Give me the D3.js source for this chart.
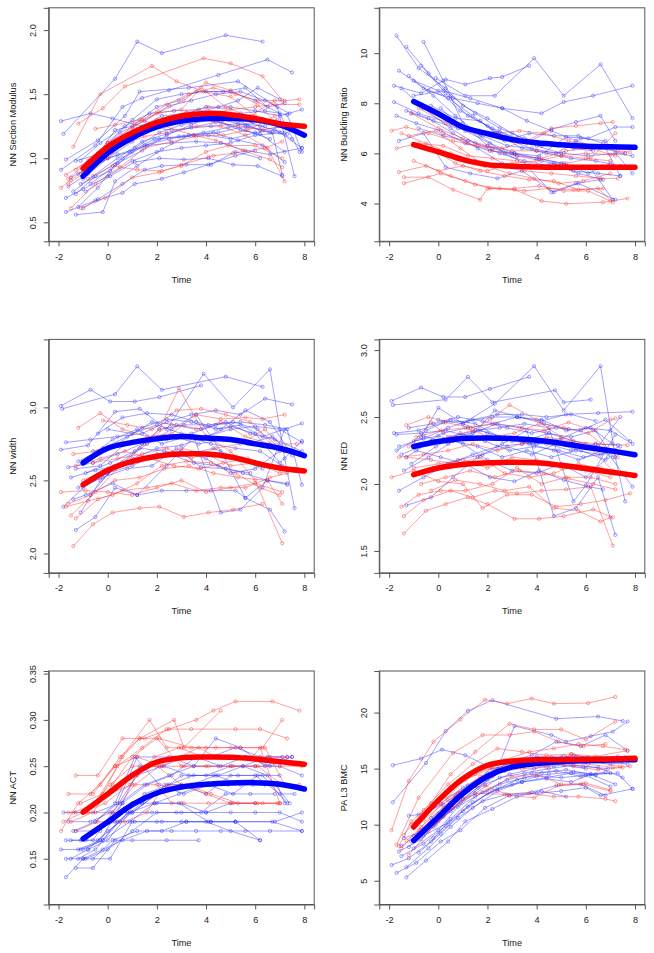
<!DOCTYPE html>
<html><head><meta charset="utf-8">
<script src="https://cdn.jsdelivr.net/npm/d3@7"></script>
<style>body{margin:0;background:#fff} svg{display:block} text{font-family:"Liberation Sans",Arial,Helvetica,sans-serif;fill:#222}</style>
</head><body><svg id="c" width="654" height="953"></svg>
<script>
// ---------- shared ----------
const timeTicks = [-2, 0, 2, 4, 6, 8];
const timeTickLabels = ["-2", "0", "2", "4", "6", "8"];
const timeDomain = [-2.4, 8.4];
const meanTimes = [-1, 0, 1, 2, 3, 4, 5, 6, 7, 8];
const xTitle = "Time";

// ---------- panel 1: NN Section Modulus ----------
const title1 = "NN Section Modulus";
const yTicks1 = [0.5, 1.0, 1.5, 2.0];
const yTickLabels1 = ["0.5", "1.0", "1.5", "2.0"];
const yDomain1 = [0.352, 2.174];
const blueMean1 = [0.86, 1.04, 1.16, 1.245, 1.29, 1.31, 1.31, 1.30, 1.26, 1.18];
const redMean1 = [0.92, 1.09, 1.20, 1.28, 1.33, 1.35, 1.34, 1.31, 1.27, 1.25];
const blue1 = [
 [[-1.8,1.19],[0.3,1.62],[1.2,1.91],[2.2,1.82],[4.8,1.96],[6.3,1.91]],
 [[-1.9,1.29],[-0.7,1.35],[0.2,1.31],[1.4,1.25],[2.6,1.22],[4.2,1.25],[5.3,1.27],[6.4,1.25]],
 [[-1.9,0.91],[-0.5,1.10],[0.6,1.40],[1.4,1.47],[2.5,1.53],[4.5,1.65],[6.5,1.77],[7.5,1.67]],
 [[-1.7,0.99],[-0.4,1.14],[0.7,1.33],[1.3,1.52],[3.3,1.55],[5.3,1.60],[6.9,1.40],[7.6,0.86]],
 [[-1.7,0.58],[-0.5,0.67],[0.6,0.73],[1.1,0.80],[2.2,0.84],[3.1,0.89],[4.1,0.95],[5.2,1.02],[6.0,1.06]],
 [[-1.3,0.56],[-0.2,0.58],[0.3,0.82],[1.2,0.94],[2.2,1.07],[3.3,1.18],[4.3,1.20],[5.3,1.14],[6.3,1.10],[7.2,0.97]],
 [[-1.2,0.62],[-0.4,0.77],[0.3,0.95],[1.1,1.08],[2.1,1.20],[3.0,1.26],[4.3,1.30],[5.4,1.22],[6.2,1.19],[7.2,1.05]],
 [[-1.7,0.69],[-1.0,0.76],[0.0,0.86],[1.0,0.98],[2.0,1.05],[3.0,1.08],[4.0,1.10],[5.0,1.12],[6.0,1.18],[7.0,1.20],[7.9,1.08]],
 [[-1.4,0.74],[-0.6,0.86],[0.4,1.00],[1.4,1.13],[2.4,1.19],[3.4,1.24],[4.4,1.28],[5.4,1.35],[6.4,1.37],[7.3,1.34],[7.9,1.05]],
 [[-1.0,0.84],[0.0,1.00],[1.0,1.13],[2.0,1.27],[3.0,1.33],[4.0,1.40],[5.0,1.40],[6.0,1.37],[7.0,1.33],[7.9,1.38]],
 [[-1.5,0.85],[-0.5,0.95],[0.5,1.13],[1.5,1.22],[2.5,1.30],[3.5,1.35],[4.5,1.40],[5.3,1.45],[6.1,1.55],[7.0,1.46]],
 [[-1.1,0.80],[0.1,0.90],[1.0,1.05],[2.1,1.15],[3.1,1.17],[4.1,1.18],[5.0,1.15],[6.0,1.20],[6.8,1.22],[7.5,1.15]],
 [[-0.6,0.97],[0.3,1.22],[1.0,1.25],[2.0,1.40],[2.9,1.45],[3.6,1.52],[4.7,1.52],[5.6,1.55],[6.5,1.40],[7.2,1.43]],
 [[-1.3,0.72],[-0.5,0.86],[0.6,1.00],[1.5,1.10],[2.5,1.15],[3.5,1.18],[4.5,1.20],[5.6,1.25],[6.6,1.20],[7.3,1.19]],
 [[-0.8,0.92],[0.4,1.03],[1.6,1.10],[2.6,1.12],[3.6,1.13],[4.6,1.12],[5.6,1.06],[6.6,1.03],[7.9,1.08]],
 [[-1.1,0.98],[-0.3,1.12],[0.7,1.25],[1.7,1.35],[2.7,1.37],[3.7,1.38],[4.7,1.30],[5.7,1.25],[6.7,1.20],[7.1,0.87]],
 [[-0.9,0.74],[0.1,0.86],[1.1,0.97],[2.1,1.00],[3.1,0.99],[4.1,1.00],[5.1,0.95],[6.1,0.94],[7.1,0.86]],
 [[-1.3,0.98],[-0.4,1.03],[0.5,1.20],[1.5,1.29],[2.5,1.41],[3.4,1.45],[4.4,1.50],[5.4,1.52],[6.4,1.45],[7.4,1.35]],
 [[-0.7,0.80],[0.4,0.96],[1.4,1.06],[2.4,1.18],[3.4,1.26],[4.4,1.35],[5.3,1.32],[6.2,1.25],[7.2,1.20]],
 [[-1.0,0.61],[-0.4,0.68],[0.6,0.80],[1.5,0.91],[2.2,0.94],[3.2,0.95],[4.2,0.95],[5.2,1.05],[6.2,1.00]],
 [[-1.6,0.78],[-0.8,0.88],[0.2,1.05],[1.2,1.23],[2.2,1.33],[3.2,1.35],[4.2,1.33],[5.2,1.30],[6.2,1.22],[7.2,1.25]],
 [[0.0,1.12],[1.0,1.30],[2.0,1.46],[3.0,1.50],[4.0,1.52],[5.0,1.52],[6.0,1.45],[7.0,1.35],[7.8,1.05]],
 [[-1.2,0.88],[-0.2,0.99],[0.9,1.05],[1.9,1.15],[2.9,1.17],[3.9,1.20],[4.9,1.24],[5.9,1.28],[6.9,1.30]],
 [[-0.3,0.98],[0.6,1.17],[1.6,1.22],[2.6,1.27],[3.6,1.30],[4.6,1.28],[5.6,1.22],[6.6,1.15]]
];
const red1 = [
 [[-1.4,1.09],[-0.3,1.50],[1.8,1.72],[2.8,1.60],[3.9,1.52],[5.0,1.48],[6.0,1.33]],
 [[-1.2,1.27],[-0.2,1.39],[0.7,1.56],[3.9,1.78],[5.0,1.74],[6.3,1.64],[7.1,1.45]],
 [[-1.9,0.77],[-1.5,0.83],[-0.6,0.95],[0.4,1.12],[1.4,1.30],[2.4,1.42],[3.3,1.50],[4.3,1.55],[5.2,1.50],[6.1,1.45],[7.2,1.45],[7.8,1.46]],
 [[-1.6,0.80],[-1.0,0.88],[0.0,1.00],[1.0,1.18],[2.0,1.30],[3.2,1.36],[4.1,1.40],[5.0,1.38],[6.0,1.40],[6.8,1.42],[7.8,1.42]],
 [[-1.5,0.61],[-0.5,0.80],[0.5,0.93],[1.5,1.08],[2.6,1.13],[3.6,1.17],[4.7,1.18],[5.7,1.22],[6.8,1.33]],
 [[-1.1,0.61],[-0.1,0.69],[1.0,0.85],[2.1,0.89],[3.0,0.95],[4.1,1.01],[4.3,1.02],[5.1,1.04],[6.4,1.08],[7.1,1.13]],
 [[-1.3,0.91],[-0.4,1.04],[0.5,1.10],[1.5,1.17],[2.4,1.20],[3.6,1.25],[4.6,1.25],[5.6,1.18],[6.5,1.08],[7.2,0.82]],
 [[-1.7,0.87],[-0.8,0.98],[0.1,1.08],[1.1,1.27],[2.1,1.36],[3.1,1.45],[4.0,1.59],[5.0,1.53],[6.1,1.42],[7.0,1.25]],
 [[-1.0,0.93],[0.0,1.12],[1.0,1.24],[2.0,1.35],[3.0,1.38],[3.8,1.55],[4.8,1.40],[5.8,1.32],[6.8,1.28],[7.6,1.25]],
 [[-0.5,1.23],[0.3,1.26],[1.3,1.30],[2.3,1.25],[3.5,1.18],[4.4,1.14],[5.5,1.06],[6.6,0.99],[7.1,0.93]],
 [[-0.8,0.84],[0.2,0.94],[1.2,0.91],[2.2,0.90],[3.0,0.94],[4.0,1.05],[4.9,1.10],[6.0,1.10],[7.1,1.00]],
 [[-1.6,0.84],[-0.7,0.99],[0.3,1.11],[1.3,1.22],[2.3,1.28],[3.3,1.31],[4.3,1.29],[5.3,1.25],[6.3,1.22],[7.4,1.26]],
 [[-0.2,1.05],[0.8,1.15],[1.8,1.24],[2.8,1.30],[3.8,1.32],[4.8,1.36],[5.8,1.33],[6.8,1.45]]
];

// ---------- panel 2: NN Buckling Ratio ----------
const title2 = "NN Buckling Ratio";
const yTicks2 = [4, 6, 8, 10];
const yTickLabels2 = ["4", "6", "8", "10"];
const yDomain2 = [2.49, 11.81];
const blueMean2 = [8.07, 7.58, 7.05, 6.79, 6.55, 6.42, 6.34, 6.28, 6.26, 6.24];
const redMean2 = [6.35, 6.06, 5.75, 5.55, 5.49, 5.46, 5.45, 5.45, 5.45, 5.45];
const blue2 = [
 [[-1.7,10.7],[-0.8,9.4],[0.3,8.6],[1.0,7.9],[2.0,7.4],[3.0,6.8],[4.0,6.3],[5.0,6.0]],
 [[-1.3,10.25],[-0.4,9.2],[0.5,8.3],[1.5,7.6],[2.5,7.0],[3.5,6.6],[4.5,6.4],[5.5,6.2],[6.3,6.1]],
 [[-0.6,10.45],[0.2,8.9],[1.0,7.2],[2.0,6.3],[3.0,6.0],[4.0,5.8],[5.0,5.6],[6.0,5.4]],
 [[-1.8,8.7],[-0.7,8.4],[0.3,8.95],[1.1,8.75],[2.1,9.0],[2.6,9.05],[3.7,9.5]],
 [[-0.1,9.0],[1.1,8.3],[2.3,8.3],[3.9,9.8],[5.1,8.3],[6.6,9.55],[7.9,7.4]],
 [[-1.0,8.3],[0.2,8.5],[1.3,8.2],[2.6,7.8],[4.2,7.6],[5.1,8.05],[6.3,8.3],[7.9,8.7]],
 [[-1.8,8.05],[-0.8,7.6],[0.5,7.2],[1.5,6.9],[2.5,6.85],[3.6,6.4],[4.6,6.95],[5.6,7.25],[6.6,7.5],[7.2,6.5]],
 [[-1.7,7.5],[-0.9,7.2],[0.1,6.9],[1.1,6.4],[2.1,6.1],[3.1,6.0],[4.1,5.9],[5.2,6.65],[6.1,6.6],[7.2,7.05],[7.9,7.05]],
 [[-1.5,8.6],[-0.6,7.8],[0.5,7.0],[1.5,6.4],[2.5,6.0],[3.5,5.7],[4.5,5.5],[5.5,5.3],[6.5,5.2],[7.4,5.1]],
 [[-1.2,9.1],[-0.2,8.3],[0.7,7.5],[1.7,6.7],[2.7,6.0],[3.7,5.5],[4.7,5.6],[5.7,5.2],[6.7,4.95]],
 [[-1.0,8.9],[0.0,8.5],[0.9,7.7],[2.0,7.1],[3.0,6.5],[4.0,6.1],[5.1,6.0],[6.1,5.9],[7.2,6.0],[7.9,5.9]],
 [[-1.1,7.6],[-0.2,7.3],[0.8,7.0],[1.8,6.7],[2.8,6.3],[3.8,6.2],[4.8,6.0],[5.8,6.6],[6.8,6.5],[7.9,5.2]],
 [[-0.8,7.0],[0.2,6.7],[1.2,6.5],[2.2,6.2],[3.2,5.9],[4.2,5.7],[5.2,5.5],[6.2,5.4],[7.1,4.15]],
 [[-1.3,7.7],[-0.4,7.4],[0.6,6.8],[1.6,6.2],[2.6,5.6],[3.6,5.5],[4.6,4.45],[5.6,4.8],[6.6,4.95]],
 [[-0.4,8.5],[0.6,8.2],[1.6,8.0],[2.6,7.8],[3.6,7.3],[4.6,6.9],[5.6,6.5],[6.6,6.2],[7.6,6.0]],
 [[-1.6,9.3],[-0.6,8.6],[0.4,8.2],[1.4,7.5],[2.4,6.8],[3.4,6.2],[4.4,6.0],[5.4,5.8],[6.4,5.7],[7.4,5.5]],
 [[-0.7,9.5],[0.3,8.4],[1.2,7.5],[2.2,7.0],[3.2,6.6],[4.2,6.3],[5.2,6.3],[6.2,6.2]],
 [[0.1,7.8],[1.1,6.9],[2.1,6.4],[3.1,6.0],[4.1,5.8],[5.1,5.6],[6.1,5.2],[7.0,5.6]],
 [[-1.6,6.5],[-0.6,6.8],[0.3,5.45],[1.3,5.2],[2.4,5.0],[3.4,5.3],[4.7,4.45],[5.7,4.8],[7.2,4.15]],
 [[-0.3,7.9],[0.7,7.4],[1.7,7.3],[2.7,6.5],[3.7,6.8],[4.7,6.7],[5.7,6.7],[6.7,6.4],[7.4,5.1]]
];
const red2 = [
 [[-1.9,6.9],[-1.3,7.05],[-0.4,6.8],[0.6,6.5],[1.6,6.3],[2.6,6.2],[3.6,6.5],[4.6,7.0],[5.6,7.1],[6.6,7.2],[7.1,7.25]],
 [[-1.7,6.2],[-0.8,6.4],[0.2,6.3],[1.2,5.9],[2.2,5.8],[3.2,5.7],[4.2,5.5],[5.2,5.6],[6.2,5.8],[7.2,6.8]],
 [[-1.6,5.25],[-0.5,5.5],[0.5,5.1],[1.5,4.75],[2.5,4.6],[3.5,4.5],[4.5,4.6],[5.5,4.55],[6.5,4.6],[7.1,4.05]],
 [[-1.4,5.05],[-0.4,5.05],[0.6,4.55],[1.7,4.15],[2.0,4.6],[3.1,4.55],[4.2,4.1],[5.2,3.99],[6.7,4.05],[7.7,4.2]],
 [[-1.4,4.8],[0.1,5.2],[1.1,4.9],[2.1,4.6],[3.1,4.6],[4.1,4.7],[5.1,4.5],[6.1,4.5],[7.0,4.1]],
 [[-1.5,6.8],[-0.5,6.4],[0.5,6.0],[1.5,5.7],[2.5,5.5],[3.5,5.3],[4.6,5.2],[5.6,5.1],[6.6,5.0],[7.3,5.0]],
 [[-1.1,7.6],[0.0,7.0],[1.0,6.6],[2.0,6.3],[3.0,6.1],[4.0,6.1],[5.0,5.9],[6.0,5.8],[7.0,5.7]],
 [[-0.8,7.8],[0.3,7.2],[1.3,6.9],[2.3,6.8],[3.3,6.9],[4.3,6.8],[5.3,6.5],[6.3,6.3],[7.3,6.1],[7.8,6.05]],
 [[-1.2,6.7],[-0.1,6.9],[0.9,6.2],[1.9,5.5],[2.9,5.2],[3.9,5.0],[4.9,4.8],[5.9,4.9],[7.0,5.2]],
 [[-0.3,6.2],[0.7,5.6],[1.7,5.3],[2.7,5.1],[3.7,4.95],[4.7,4.9],[5.7,4.55],[6.7,4.6]],
 [[-1.0,5.7],[0.0,5.3],[1.0,5.5],[2.0,5.3],[3.0,5.6],[4.0,5.7],[5.0,5.9],[6.0,6.0],[7.0,5.95],[7.6,6.0]],
 [[0.2,6.8],[1.2,6.4],[2.2,6.1],[3.2,5.9],[4.2,5.8],[5.2,6.1],[6.2,6.2],[7.2,5.9]]
];

// ---------- panel 3: NN width ----------
const title3 = "NN width";
const yTicks3 = [2.0, 2.5, 3.0];
const yTickLabels3 = ["2.0", "2.5", "3.0"];
const yDomain3 = [1.867, 3.465];
const blueMean3 = [2.62, 2.72, 2.76, 2.786, 2.80, 2.79, 2.78, 2.75, 2.72, 2.67];
const redMean3 = [2.47, 2.57, 2.63, 2.665, 2.68, 2.68, 2.66, 2.62, 2.585, 2.565];
const blue3 = [
 [[-1.9,3.01],[-0.7,3.12],[0.1,3.04],[1.1,3.04],[2.1,3.07],[3.8,3.15]],
 [[-1.85,2.99],[0.3,3.09],[1.2,3.28],[2.2,3.12],[4.8,3.21],[6.3,3.14]],
 [[-1.9,2.71],[-0.8,2.74],[0.3,2.97],[1.3,2.99],[2.4,2.85],[3.9,3.23],[5.1,3.00],[6.6,3.26],[7.2,2.65],[7.6,2.31]],
 [[-1.7,2.76],[-0.7,2.78],[0.4,2.80],[1.4,2.82],[2.4,2.90],[3.4,2.95],[4.4,2.98],[5.4,2.95],[6.4,3.06],[7.5,3.02]],
 [[-1.4,2.37],[-0.9,2.40],[0.2,2.48],[1.2,2.40],[2.2,2.43],[3.2,2.43],[4.2,2.43],[5.2,2.43],[5.6,2.38],[6.5,2.50],[7.3,2.47]],
 [[-1.3,2.16],[-0.5,2.25],[0.3,2.45],[1.2,2.40],[2.4,2.60],[3.5,2.80],[4.6,2.28],[5.4,2.30],[6.3,2.45],[7.2,2.85]],
 [[-1.1,2.28],[-0.3,2.50],[0.6,2.62],[1.6,2.75],[2.6,2.85],[3.6,2.95],[4.6,2.70],[5.6,2.38],[6.6,2.30],[7.2,2.15]],
 [[-1.8,2.32],[-1.0,2.45],[0.0,2.55],[1.0,2.65],[2.0,2.72],[3.0,2.74],[4.0,2.80],[5.0,2.85],[6.0,2.87],[7.0,2.85],[7.9,2.76]],
 [[-1.6,2.59],[-0.6,2.62],[0.4,2.68],[1.4,2.75],[2.4,2.78],[3.4,2.82],[4.4,2.88],[5.4,2.90],[6.4,2.88],[7.3,2.85],[7.9,2.47]],
 [[-1.2,2.63],[-0.2,2.72],[0.8,2.80],[1.8,2.90],[2.8,2.88],[3.8,2.85],[4.8,2.90],[5.8,2.82],[6.8,2.78],[7.9,2.70]],
 [[-1.3,2.58],[-0.3,2.60],[0.7,2.75],[1.7,2.78],[2.7,2.80],[3.7,2.75],[4.7,2.78],[5.7,2.75],[6.7,2.80],[7.5,2.67]],
 [[-0.9,2.55],[0.1,2.62],[1.1,2.70],[2.1,2.85],[3.1,2.88],[4.1,2.88],[5.1,2.90],[6.1,2.85],[7.0,2.72]],
 [[-0.6,2.70],[0.4,2.75],[1.4,2.86],[2.4,2.92],[3.4,2.90],[4.4,2.85],[5.4,2.88],[6.3,2.80],[7.9,2.89]],
 [[-1.0,2.48],[0.0,2.55],[1.0,2.60],[2.0,2.68],[3.0,2.70],[4.0,2.65],[5.0,2.55],[6.0,2.58],[7.0,2.70]],
 [[-0.4,2.82],[0.6,2.93],[1.6,2.96],[2.6,2.95],[3.6,2.90],[4.6,2.85],[5.6,2.98],[6.6,2.90],[7.4,2.70]],
 [[-1.5,2.52],[-0.5,2.57],[0.5,2.60],[1.5,2.65],[2.5,2.68],[3.5,2.62],[4.5,2.60],[5.5,2.55],[6.5,2.50],[7.3,2.48]],
 [[-0.8,2.65],[0.2,2.78],[1.2,2.85],[2.2,2.75],[3.2,2.80],[4.2,2.75],[5.2,2.72],[6.2,2.70],[7.1,2.60]],
 [[0.0,2.85],[1.0,2.82],[2.0,2.88],[3.0,2.82],[4.0,2.80],[5.0,2.87],[6.0,2.82],[7.0,2.62],[7.9,2.77]],
 [[-1.2,2.45],[-0.2,2.52],[0.8,2.58],[1.8,2.60],[2.8,2.72],[3.8,2.59],[4.8,2.58],[5.8,2.55]],
 [[-0.7,2.40],[0.3,2.60],[1.3,2.72],[2.3,2.70],[3.3,2.68],[4.3,2.72],[5.3,2.65],[6.3,2.58]]
];
const red3 = [
 [[-1.4,2.05],[-0.6,2.20],[0.2,2.28],[1.3,2.31],[2.1,2.32],[3.1,2.25],[4.1,2.28],[5.1,2.30],[6.3,2.34]],
 [[-1.9,2.42],[-0.9,2.43],[0.0,2.42],[1.0,2.40],[2.0,2.45],[3.0,2.50],[4.0,2.42],[5.0,2.45],[6.0,2.48],[7.1,2.42]],
 [[-1.3,2.24],[-0.4,2.37],[0.6,2.43],[1.6,2.45],[2.6,2.48],[3.6,2.43],[4.6,2.45],[5.6,2.45],[6.6,2.52],[7.3,2.55]],
 [[-1.6,2.34],[-0.7,2.40],[0.3,2.50],[1.3,2.52],[2.3,2.58],[3.3,2.60],[4.3,2.55],[5.3,2.52],[6.5,2.50],[7.1,2.34]],
 [[-1.5,2.26],[-0.5,2.42],[0.5,2.60],[1.5,2.75],[2.1,2.85],[2.9,3.13],[4.0,2.80],[5.0,2.70],[6.0,2.50],[7.1,2.07]],
 [[-1.2,2.86],[-0.3,2.96],[0.6,2.85],[1.6,2.80],[2.6,2.82],[3.6,2.95],[4.6,2.92],[5.6,2.93],[6.3,2.92],[7.2,2.95]],
 [[-1.4,2.68],[-0.4,2.70],[0.6,2.75],[1.6,2.78],[2.6,2.88],[3.6,2.85],[4.6,2.90],[5.6,2.80],[6.6,2.75],[7.7,2.75]],
 [[-1.0,2.50],[0.0,2.58],[1.0,2.62],[2.0,2.65],[3.0,2.72],[4.0,2.68],[5.0,2.60],[6.0,2.62],[7.0,2.55],[7.6,2.57]],
 [[-0.2,2.91],[0.8,2.88],[1.8,2.85],[2.8,2.98],[3.8,2.99],[4.8,2.95],[5.8,2.90],[6.8,2.72]],
 [[-1.7,2.32],[-0.8,2.36],[0.2,2.40],[1.2,2.48],[2.2,2.60],[3.2,2.63],[4.2,2.62],[5.2,2.55],[6.2,2.45],[7.0,2.40]],
 [[-0.6,2.62],[0.4,2.65],[1.4,2.68],[2.4,2.72],[3.4,2.65],[4.4,2.72],[5.4,2.75],[6.4,2.85],[7.2,2.70]],
 [[-1.3,2.60],[-0.3,2.65],[0.7,2.70],[1.7,2.65],[2.7,2.60],[3.7,2.58],[4.7,2.62],[5.7,2.65],[6.7,2.60]]
];

// ---------- panel 4: NN ED ----------
const title4 = "NN ED";
const yTicks4 = [1.5, 2.0, 2.5, 3.0];
const yTickLabels4 = ["1.5", "2.0", "2.5", "3.0"];
const yDomain4 = [1.336, 3.08];
const blueMean4 = [2.28, 2.317, 2.34, 2.344, 2.34, 2.327, 2.305, 2.275, 2.248, 2.218];
const redMean4 = [2.07, 2.12, 2.146, 2.158, 2.163, 2.158, 2.14, 2.116, 2.09, 2.064];
const blue4 = [
 [[-1.9,2.62],[-0.7,2.72],[0.2,2.65],[1.1,2.65],[2.1,2.71],[3.7,2.80]],
 [[-1.85,2.59],[0.3,2.63],[1.2,2.80],[2.2,2.61],[4.75,2.70],[5.1,2.61],[6.2,2.63]],
 [[-1.7,2.25],[-0.7,2.35],[0.0,2.57],[1.0,2.45],[2.3,2.60],[3.9,2.88],[5.1,2.55],[6.6,2.88],[7.2,2.20],[7.6,1.87]],
 [[-1.8,2.38],[-0.8,2.40],[0.2,2.46],[1.2,2.47],[2.2,2.50],[3.2,2.50],[4.2,2.47],[5.2,2.52],[6.5,2.53],[7.9,2.54]],
 [[-1.3,1.84],[-0.3,1.90],[0.6,2.05],[1.6,2.20],[2.6,2.30],[3.6,2.40],[4.7,1.76],[5.6,1.82],[6.5,2.05],[7.2,1.62]],
 [[-1.5,2.22],[-0.5,2.30],[0.5,2.35],[1.5,2.40],[2.5,2.42],[3.5,2.45],[4.5,2.42],[5.5,1.87],[6.0,1.99],[7.2,2.37]],
 [[-1.1,2.15],[-0.1,2.28],[0.9,2.38],[1.9,2.32],[2.9,2.25],[3.9,2.28],[4.9,2.25],[5.9,2.20],[6.9,2.23],[7.9,1.98]],
 [[-1.6,1.95],[-0.6,2.05],[0.4,2.15],[1.4,2.22],[2.4,2.28],[3.4,2.30],[4.4,2.30],[5.4,2.25],[6.4,2.30],[7.3,2.29]],
 [[-1.2,2.42],[-0.2,2.45],[0.8,2.50],[1.8,2.47],[2.8,2.42],[3.8,2.38],[4.8,2.42],[5.8,2.40],[6.8,2.48],[7.8,2.32]],
 [[-0.8,2.28],[0.2,2.38],[1.2,2.42],[2.2,2.45],[3.2,2.50],[4.2,2.48],[5.2,2.40],[6.2,2.42],[7.1,2.30]],
 [[-1.4,2.10],[-0.4,2.20],[0.6,2.32],[1.6,2.28],[2.6,2.20],[3.6,2.25],[4.6,2.20],[5.6,2.25],[6.6,2.22],[7.4,2.28]],
 [[-0.5,2.40],[0.5,2.48],[1.5,2.45],[2.5,2.35],[3.5,2.32],[4.5,2.38],[5.5,2.32],[6.5,2.28],[7.4,2.50]],
 [[-1.0,2.32],[0.0,2.36],[1.0,2.30],[2.0,2.18],[3.0,2.10],[4.0,2.08],[5.0,2.15],[6.0,2.05],[6.9,2.20]],
 [[-1.6,2.28],[-0.6,2.34],[0.4,2.42],[1.4,2.48],[2.4,2.52],[3.4,2.52],[4.4,2.50],[5.4,2.52],[6.4,2.47]],
 [[0.0,2.48],[1.0,2.45],[2.0,2.38],[3.0,2.32],[4.0,2.30],[5.0,2.34],[6.0,2.42],[7.0,2.40],[7.9,2.30]],
 [[-0.9,2.25],[0.1,2.20],[1.1,2.15],[2.1,2.05],[3.1,2.02],[4.1,2.10],[5.1,2.03],[6.1,1.98],[6.7,1.96]],
 [[-1.3,2.20],[-0.3,2.32],[0.7,2.35],[1.7,2.40],[2.7,2.35],[3.7,2.30],[4.7,2.25],[5.7,2.18],[6.7,2.25]],
 [[-0.6,2.36],[0.4,2.30],[1.4,2.38],[2.4,2.45],[3.4,2.42],[4.4,2.38],[5.4,2.35],[6.4,2.40],[7.1,2.20]],
 [[-1.7,2.37],[-0.7,2.38],[0.3,2.40],[1.3,2.35],[2.3,2.55],[3.3,2.50],[4.3,2.45],[5.3,2.41]],
 [[-0.2,2.12],[0.8,2.18],[1.8,2.22],[2.8,2.28],[3.8,2.22],[4.8,2.30],[5.8,2.25],[6.8,2.18]]
];
const red4 = [
 [[-1.4,1.63],[-0.5,1.80],[0.3,1.85],[1.2,1.90],[2.0,1.85],[3.1,1.74],[4.1,1.74],[5.1,1.76],[6.3,1.81],[7.1,1.75]],
 [[-1.4,1.76],[-0.6,1.88],[0.5,1.95],[1.4,1.90],[2.3,1.95],[3.2,1.93],[4.2,1.95],[5.2,1.96],[6.2,1.98],[7.1,1.54]],
 [[-1.9,2.05],[-1.0,2.10],[0.0,2.02],[1.0,2.00],[1.8,1.82],[2.8,1.92],[3.8,1.92],[4.8,1.83],[5.8,1.85],[6.8,1.88],[7.8,1.93]],
 [[-1.5,1.83],[-0.8,1.92],[0.1,1.95],[1.1,1.95],[2.2,2.00],[3.2,2.12],[4.2,2.00],[5.2,2.05],[6.2,2.05],[7.2,2.00]],
 [[-1.2,2.28],[-0.3,2.46],[0.4,2.35],[1.4,2.40],[2.1,2.48],[2.9,2.59],[4.0,2.48],[5.0,2.35],[6.0,2.30],[7.1,2.10]],
 [[-1.3,2.44],[-0.4,2.50],[0.3,2.46],[1.3,2.42],[2.3,2.45],[3.3,2.42],[4.3,2.40],[5.3,2.46],[6.3,2.40],[7.0,2.48],[7.2,2.49]],
 [[-1.6,2.20],[-0.6,2.22],[0.4,2.25],[1.4,2.30],[2.4,2.25],[3.4,2.30],[4.4,2.35],[5.4,2.32],[6.4,2.30],[7.7,2.29]],
 [[-1.0,2.12],[0.0,2.15],[1.0,2.18],[2.0,2.12],[3.0,2.20],[4.0,2.18],[5.0,2.12],[6.0,2.10],[7.0,2.05]],
 [[-0.7,2.00],[0.3,2.05],[1.3,2.10],[2.3,2.05],[3.3,2.10],[4.3,2.08],[5.3,2.04],[6.3,2.00],[7.2,1.96]],
 [[-0.9,2.35],[0.1,2.40],[1.1,2.42],[2.1,2.35],[3.1,2.38],[4.1,2.45],[5.1,2.42],[6.1,2.38],[7.3,2.20]],
 [[-1.3,2.20],[-0.3,2.18],[0.7,2.15],[1.7,2.20],[2.7,2.08],[3.7,2.05],[4.7,2.08],[5.7,2.15],[6.6,2.12]],
 [[-0.3,1.95],[0.7,2.03],[1.7,2.00],[2.7,1.95],[3.7,1.98],[4.7,1.82],[5.7,1.80],[6.6,1.72],[7.0,1.75]]
];

// ---------- panel 5: NN ACT ----------
const title5 = "NN ACT";
const yTicks5 = [0.15, 0.20, 0.25, 0.30, 0.35];
const yTickLabels5 = ["0.15", "0.20", "0.25", "0.30", "0.35"];
const yDomain5 = [0.1006, 0.3528];
const blueMean5 = [0.1716, 0.1896, 0.2084, 0.221, 0.2275, 0.2304, 0.2318, 0.2322, 0.2304, 0.2253];
const redMean5 = [0.2004, 0.220, 0.240, 0.2545, 0.259, 0.2599, 0.2596, 0.2578, 0.2549, 0.252];
const blue5 = [
 [[-1.7,0.13],[-1.0,0.15],[0.1,0.15],[1.0,0.19],[2.0,0.19],[3.0,0.19],[4.0,0.19],[5.0,0.18],[6.2,0.17]],
 [[-1.3,0.14],[-0.6,0.14],[0.3,0.17],[1.0,0.17],[2.4,0.17],[3.7,0.17]],
 [[-1.9,0.16],[-1.1,0.16],[-0.2,0.17],[0.9,0.19],[1.9,0.21],[2.9,0.21],[4.1,0.19],[5.2,0.19],[6.7,0.19],[7.9,0.18]],
 [[-1.7,0.15],[-0.9,0.15],[0.0,0.16],[1.0,0.18],[2.0,0.20],[3.0,0.20],[4.0,0.20],[5.0,0.20],[6.0,0.20],[7.0,0.20],[7.9,0.19]],
 [[-1.8,0.20],[-1.3,0.20],[-0.5,0.20],[0.5,0.21],[1.5,0.23],[2.5,0.24],[3.5,0.25],[4.4,0.28],[5.4,0.27],[6.4,0.25],[7.3,0.26]],
 [[-1.5,0.17],[-0.6,0.17],[0.2,0.20],[1.2,0.24],[2.2,0.25],[3.2,0.26],[4.2,0.26],[5.2,0.27],[6.2,0.26],[7.1,0.26]],
 [[-1.2,0.16],[-0.3,0.17],[0.6,0.21],[1.3,0.25],[2.3,0.25],[3.3,0.24],[4.3,0.24],[5.3,0.24],[6.3,0.24],[7.3,0.21]],
 [[-1.4,0.18],[-0.5,0.19],[0.4,0.21],[1.2,0.26],[2.5,0.26],[3.5,0.25],[4.5,0.25],[5.5,0.25],[6.5,0.26],[7.5,0.26]],
 [[-1.0,0.15],[-0.2,0.16],[0.6,0.17],[1.6,0.18],[2.6,0.18],[3.6,0.18],[4.6,0.18],[5.6,0.18],[6.6,0.18],[7.9,0.18]],
 [[-1.6,0.19],[-0.7,0.19],[0.1,0.20],[1.0,0.20],[2.0,0.22],[3.0,0.23],[4.0,0.22],[5.0,0.24],[6.0,0.24],[7.0,0.22],[7.6,0.22]],
 [[-1.1,0.17],[-0.4,0.17],[0.5,0.19],[1.5,0.22],[2.5,0.23],[3.5,0.24],[4.5,0.24],[5.5,0.25],[6.5,0.24],[7.4,0.21]],
 [[-0.8,0.16],[0.0,0.18],[1.0,0.20],[2.0,0.22],[3.0,0.24],[4.0,0.24],[5.0,0.25],[6.0,0.25],[7.0,0.25],[7.9,0.24]],
 [[-1.3,0.18],[-0.6,0.18],[0.3,0.19],[1.1,0.19],[2.2,0.19],[3.2,0.19],[4.2,0.19],[5.2,0.19],[6.8,0.19],[7.9,0.20]],
 [[-0.6,0.15],[0.2,0.17],[1.2,0.18],[2.2,0.18],[3.2,0.19],[4.2,0.19],[5.2,0.19],[6.2,0.17]],
 [[-1.5,0.15],[-0.8,0.16],[0.0,0.17],[0.9,0.20],[1.9,0.21],[2.9,0.22],[3.9,0.23],[4.9,0.23],[5.9,0.23],[6.9,0.23],[7.2,0.21]],
 [[-0.3,0.18],[0.6,0.21],[1.6,0.23],[2.6,0.24],[3.6,0.26],[4.6,0.25],[5.6,0.26],[6.6,0.25],[7.5,0.26]],
 [[-1.2,0.15],[-0.5,0.16],[0.4,0.19],[1.4,0.21],[2.4,0.23],[3.4,0.23],[4.4,0.24],[5.4,0.23],[6.4,0.23],[7.2,0.23]],
 [[-1.7,0.17],[-0.9,0.17],[0.0,0.19],[1.0,0.21],[2.0,0.21],[3.0,0.21],[4.0,0.20],[5.0,0.21],[6.0,0.21]],
 [[-0.5,0.19],[0.3,0.21],[1.1,0.26],[2.1,0.23],[3.1,0.22],[4.1,0.23],[5.1,0.22],[6.1,0.24],[7.0,0.24]],
 [[-1.0,0.16],[-0.2,0.17],[0.8,0.20],[1.8,0.20],[2.8,0.20],[3.8,0.20],[4.8,0.22],[5.8,0.22],[6.8,0.22]]
];
const red5 = [
 [[-1.3,0.24],[-0.4,0.24],[0.6,0.28],[1.5,0.28],[2.5,0.29],[3.6,0.30],[4.3,0.31],[5.2,0.32],[6.7,0.32],[7.8,0.31]],
 [[-1.6,0.22],[-0.7,0.22],[0.3,0.25],[1.7,0.30],[2.4,0.27],[3.0,0.27],[4.0,0.27],[5.0,0.27],[6.3,0.27],[7.1,0.30]],
 [[-1.9,0.18],[-1.2,0.21],[-0.3,0.23],[0.5,0.26],[1.3,0.28],[2.7,0.30],[3.1,0.27],[4.6,0.31]],
 [[-1.4,0.20],[-0.5,0.21],[0.4,0.25],[1.4,0.27],[2.4,0.29],[3.4,0.29],[5.2,0.29],[6.2,0.29],[7.3,0.28]],
 [[-1.5,0.19],[-0.6,0.20],[0.2,0.23],[1.0,0.26],[2.0,0.28],[3.0,0.25],[4.0,0.25],[5.0,0.25],[6.0,0.25],[7.0,0.25],[7.9,0.25]],
 [[-1.8,0.19],[-1.0,0.20],[0.0,0.22],[1.0,0.23],[2.0,0.23],[2.6,0.21],[3.1,0.21],[4.1,0.21],[5.1,0.21],[6.1,0.21],[7.0,0.21]],
 [[-1.3,0.18],[-0.4,0.19],[0.7,0.19],[1.6,0.20],[2.3,0.23],[3.2,0.23],[4.2,0.22],[5.3,0.21],[6.3,0.21],[7.0,0.21]],
 [[-1.1,0.21],[-0.2,0.22],[0.6,0.26],[1.3,0.28],[2.1,0.28],[3.4,0.27],[4.4,0.27],[5.4,0.27],[6.4,0.27],[7.2,0.23]],
 [[-1.6,0.20],[-0.8,0.20],[0.2,0.20],[1.1,0.23],[2.1,0.25],[3.1,0.25],[4.1,0.25],[5.1,0.25],[6.1,0.25],[7.1,0.23],[7.8,0.23]],
 [[-1.0,0.20],[-0.1,0.21],[0.9,0.23],[1.9,0.26],[2.9,0.27],[3.9,0.26],[4.9,0.26],[5.9,0.26],[6.2,0.27],[7.0,0.21]],
 [[-0.6,0.22],[0.3,0.25],[1.2,0.26],[2.2,0.25],[3.7,0.27],[4.4,0.26],[5.6,0.26],[6.6,0.26],[7.3,0.26]],
 [[-0.9,0.20],[0.1,0.23],[1.0,0.25],[2.0,0.25],[3.0,0.23],[4.0,0.22],[5.0,0.21],[6.0,0.21],[6.9,0.21]]
];

// ---------- panel 6: PA L3 BMC ----------
const title6 = "PA L3 BMC";
const yTicks6 = [5, 10, 15, 20];
const yTickLabels6 = ["5", "10", "15", "20"];
const yDomain6 = [2.88, 23.71];
const blueMean6 = [8.6, 10.68, 12.77, 14.32, 15.15, 15.45, 15.63, 15.71, 15.77, 15.80];
const redMean6 = [9.79, 12.17, 14.1, 15.3, 15.68, 15.8, 15.8, 15.83, 15.86, 15.92];
const blue6 = [
 [[-1.85,12.0],[-0.5,15.5],[0.3,18.35],[1.2,20.15],[2.2,21.1],[4.8,19.45],[6.5,19.65],[7.5,19.25]],
 [[-1.85,15.3],[-0.7,15.9],[0.15,16.7],[1.1,16.2],[2.2,15.0],[3.2,15.5],[4.2,15.6],[5.1,15.3],[6.0,15.0]],
 [[-1.9,6.4],[-1.2,7.0],[-0.3,8.5],[0.5,10.5],[1.5,12.5],[2.5,13.6],[3.5,14.2],[4.5,14.5],[5.5,14.7],[6.4,14.5],[7.3,14.6],[7.9,13.2]],
 [[-1.7,5.7],[-0.9,6.6],[0.1,8.5],[0.9,9.5],[1.9,11.5],[2.9,12.6],[4.0,12.8],[5.0,13.0],[6.0,13.3],[6.6,12.6],[7.9,13.2]],
 [[-1.3,5.3],[-0.5,6.8],[0.4,8.5],[1.1,10.3],[2.2,11.4],[3.2,12.5],[4.2,13.0],[5.2,12.5]],
 [[-1.5,7.2],[-0.6,8.3],[0.3,9.9],[1.2,11.6],[2.2,13.0],[3.2,14.0],[4.2,14.6],[5.2,14.9],[6.2,14.5],[7.0,14.6]],
 [[-1.2,8.0],[-0.2,9.8],[0.6,11.5],[1.6,13.3],[2.6,14.8],[3.6,15.6],[4.6,16.0],[5.6,16.0],[6.6,15.9],[7.6,15.8]],
 [[-1.6,7.6],[-0.7,8.7],[0.2,10.7],[1.0,12.3],[2.0,14.0],[3.0,15.3],[4.0,16.1],[5.1,16.1],[6.1,16.0],[7.3,16.1]],
 [[-1.0,9.0],[0.0,11.0],[0.8,12.8],[1.8,14.1],[2.8,15.5],[3.8,16.2],[4.8,17.4],[5.8,17.0],[6.8,18.0],[7.7,16.6]],
 [[-1.2,10.8],[-0.8,10.9],[0.2,11.8],[1.2,13.5],[2.4,15.0],[3.1,18.8],[4.6,18.0],[5.2,17.4],[6.2,17.9],[7.1,18.3],[7.7,19.2]],
 [[-1.1,8.5],[-0.1,10.0],[0.9,12.0],[1.9,13.6],[2.9,14.5],[3.9,15.0],[4.9,15.5],[5.9,15.2],[6.9,15.0]],
 [[-0.8,7.5],[0.1,9.2],[1.0,11.2],[2.0,12.8],[3.0,13.6],[4.0,14.3],[5.0,14.2],[6.0,14.4],[7.0,13.4]],
 [[-1.4,8.8],[-0.5,9.5],[0.5,11.2],[1.5,12.8],[2.5,14.2],[3.5,14.6],[4.5,15.0],[5.5,15.3],[6.5,15.1],[7.5,14.2]],
 [[-0.6,9.0],[0.4,10.2],[1.4,12.0],[2.4,13.2],[3.4,13.8],[4.4,14.1],[5.4,13.8],[6.2,14.5],[7.2,13.6]],
 [[-1.5,8.1],[-0.5,9.6],[0.5,11.8],[1.5,13.5],[2.5,14.8],[3.5,15.2],[4.5,15.6],[5.5,16.2],[6.5,15.9],[7.6,16.0]],
 [[-0.9,10.2],[0.1,11.9],[1.0,13.3],[2.0,14.6],[3.0,15.6],[4.0,15.9],[5.0,16.0],[6.0,15.6],[7.0,15.4],[8.0,15.8]],
 [[-1.0,7.9],[0.0,9.5],[0.8,11.6],[1.8,12.9],[2.8,14.0],[3.8,14.6],[4.8,14.8],[5.8,14.3],[6.8,14.7]],
 [[-0.3,10.6],[0.7,12.5],[1.7,13.8],[2.7,14.8],[3.7,15.3],[4.7,15.2],[5.7,15.7],[6.7,15.6],[7.7,15.4]],
 [[-1.3,6.2],[-0.4,7.9],[0.5,9.8],[1.4,11.5],[2.4,13.0],[3.4,13.8],[4.4,14.2],[5.4,14.6],[6.4,14.4]],
 [[-0.2,8.8],[0.8,10.6],[1.8,12.1],[2.8,12.7],[3.8,12.9],[4.8,13.5],[5.8,13.6],[6.8,12.6]]
];
const red6 = [
 [[-1.9,9.5],[-1.2,13.9],[-0.2,17.4],[0.9,19.4],[1.9,21.15],[2.8,20.8],[3.8,21.25],[4.7,20.8],[6.1,20.85],[7.2,21.4]],
 [[-1.6,8.1],[-1.1,10.3],[-0.3,11.9],[0.5,14.5],[1.5,16.5],[2.9,19.0],[3.9,18.5],[5.0,18.5],[6.0,17.6],[7.2,19.2]],
 [[-1.7,8.2],[-0.8,12.4],[0.6,16.4],[1.8,18.0],[2.9,18.0],[3.9,18.3],[4.9,17.4],[5.9,17.0],[6.8,17.2]],
 [[-1.4,9.1],[-0.6,11.3],[0.4,13.6],[1.4,15.4],[2.4,16.8],[3.4,16.5],[4.4,16.2],[5.4,16.3],[6.4,16.1],[7.7,16.6]],
 [[-1.5,7.9],[-0.7,9.8],[0.2,11.5],[1.2,13.0],[2.2,14.3],[3.2,15.5],[4.2,15.6],[5.2,16.0],[6.2,15.7],[7.4,15.2]],
 [[-1.2,7.3],[-0.4,9.4],[0.6,11.5],[1.5,12.8],[2.7,12.7],[3.7,12.8],[4.7,12.5],[5.7,12.5],[6.8,12.3],[7.2,12.1]],
 [[-1.0,8.5],[0.0,10.3],[1.0,12.3],[2.0,13.1],[3.0,14.3],[4.0,14.5],[5.0,13.6],[6.0,13.7],[7.0,13.1]],
 [[-0.8,9.5],[0.1,11.8],[1.1,14.0],[2.1,15.0],[3.1,15.2],[4.1,15.3],[5.1,15.5],[6.1,15.4],[7.1,15.1],[7.8,15.2]],
 [[-1.3,8.6],[-0.3,10.2],[0.7,12.6],[1.7,14.3],[2.7,15.8],[3.7,16.5],[4.7,16.8],[5.7,17.2],[6.7,17.0],[7.6,16.7]],
 [[-0.5,11.0],[0.5,13.2],[1.5,14.5],[2.5,15.6],[3.5,15.2],[4.5,15.5],[5.5,15.2],[6.5,14.9],[7.5,15.1]],
 [[-1.1,10.0],[-0.1,12.0],[0.9,13.0],[1.9,13.5],[2.9,12.6],[3.9,12.4],[4.9,13.5],[5.9,13.6],[7.0,13.0]],
 [[-0.6,10.4],[0.4,12.2],[1.4,13.4],[2.4,14.7],[3.4,15.0],[4.4,15.1],[5.4,16.3],[6.4,15.8],[7.5,15.6]]
];

// ---------- assemble ----------
const panels = [
 {title: title1, ticks: yTicks1, labels: yTickLabels1, domain: yDomain1, blue: blue1, red: red1, bm: blueMean1, rm: redMean1},
 {title: title2, ticks: yTicks2, labels: yTickLabels2, domain: yDomain2, blue: blue2, red: red2, bm: blueMean2, rm: redMean2},
 {title: title3, ticks: yTicks3, labels: yTickLabels3, domain: yDomain3, blue: blue3, red: red3, bm: blueMean3, rm: redMean3},
 {title: title4, ticks: yTicks4, labels: yTickLabels4, domain: yDomain4, blue: blue4, red: red4, bm: blueMean4, rm: redMean4},
 {title: title5, ticks: yTicks5, labels: yTickLabels5, domain: yDomain5, blue: blue5, red: red5, bm: blueMean5, rm: redMean5},
 {title: title6, ticks: yTicks6, labels: yTickLabels6, domain: yDomain6, blue: blue6, red: red6, bm: blueMean6, rm: redMean6}
];

const svg = d3.select("#c");
const colLeft = [48.7, 379.3];
const rowTop = [7.8, 339.4, 671];
const boxW = 265.5, boxH = 233.5;
const thinBlue = "rgba(40,40,255,0.55)", thinRed = "rgba(255,40,40,0.55)";
const FONT = '"Liberation Sans", Arial, Helvetica, sans-serif';
const FS = 9.2;

panels.forEach((p, i) => {
  const col = i % 2, row = Math.floor(i / 2);
  const L = colLeft[col], T = rowTop[row];
  const x = d3.scaleLinear().domain(timeDomain).range([L, L + boxW]);
  const y = d3.scaleLinear().domain(p.domain).range([T + boxH, T]);
  const g = svg.append("g");

  const line = d3.line().x(d => x(d[0])).y(d => y(d[1]));
  const drawGroup = (subjects, c) => {
    const gg = g.append("g");
    subjects.forEach(s => {
      gg.append("path").attr("d", line(s)).attr("fill", "none")
        .attr("stroke", c).attr("stroke-width", 0.8);
      gg.selectAll(null).data(s).enter().append("circle")
        .attr("cx", d => x(d[0])).attr("cy", d => y(d[1])).attr("r", 1.6)
        .attr("fill", "none").attr("stroke", c).attr("stroke-width", 0.8);
    });
  };
  drawGroup(p.blue, thinBlue);
  drawGroup(p.red, thinRed);

  const mline = d3.line().x((d, j) => x(meanTimes[j])).y(d => y(d)).curve(d3.curveCatmullRom);
  g.append("path").attr("d", mline(p.bm)).attr("fill", "none").attr("stroke", "#0000ff")
    .attr("stroke-width", 5.5).attr("stroke-linecap", "round").attr("stroke-linejoin", "round");
  g.append("path").attr("d", mline(p.rm)).attr("fill", "none").attr("stroke", "#ff0000")
    .attr("stroke-width", 5.5).attr("stroke-linecap", "round").attr("stroke-linejoin", "round");

  // box
  g.append("rect").attr("x", L).attr("y", T).attr("width", boxW).attr("height", boxH)
    .attr("fill", "none").attr("stroke", "#555").attr("stroke-width", 1);

  // x axis
  const xa = d3.axisBottom(x).tickValues(timeTicks).tickSize(5).tickPadding(7)
    .tickFormat((d, j) => timeTickLabels[j]);
  const xg = g.append("g").attr("transform", `translate(0,${T + boxH})`).call(xa);
  xg.select(".domain").attr("stroke", "#555");
  xg.selectAll(".tick line").attr("stroke", "#555");
  xg.selectAll("text").attr("font-size", FS).attr("fill", "#222").attr("font-family", FONT);
  g.append("text").attr("x", L + boxW / 2).attr("y", T + boxH + 41.5).attr("text-anchor", "middle")
    .attr("font-size", FS).attr("font-family", FONT).text(xTitle);

  // y axis
  const ya = d3.axisLeft(y).tickValues(p.ticks).tickSize(5).tickFormat((d, j) => p.labels[j]);
  const yg = g.append("g").attr("transform", `translate(${L},0)`).call(ya);
  yg.select(".domain").attr("stroke", "#555");
  yg.selectAll(".tick line").attr("stroke", "#555");
  yg.selectAll("text").attr("font-size", FS).attr("fill", "#222").attr("font-family", FONT)
    .attr("text-anchor", "middle").attr("x", null)
    .attr("transform", "translate(-15.5,0) rotate(-90)").attr("dy", "0.35em");
  g.append("text").attr("transform", `translate(${L - 36},${T + boxH / 2}) rotate(-90)`)
    .attr("text-anchor", "middle").attr("dy", "0.35em").attr("font-size", FS)
    .attr("font-family", FONT).text(p.title);
});
</script></body></html>
